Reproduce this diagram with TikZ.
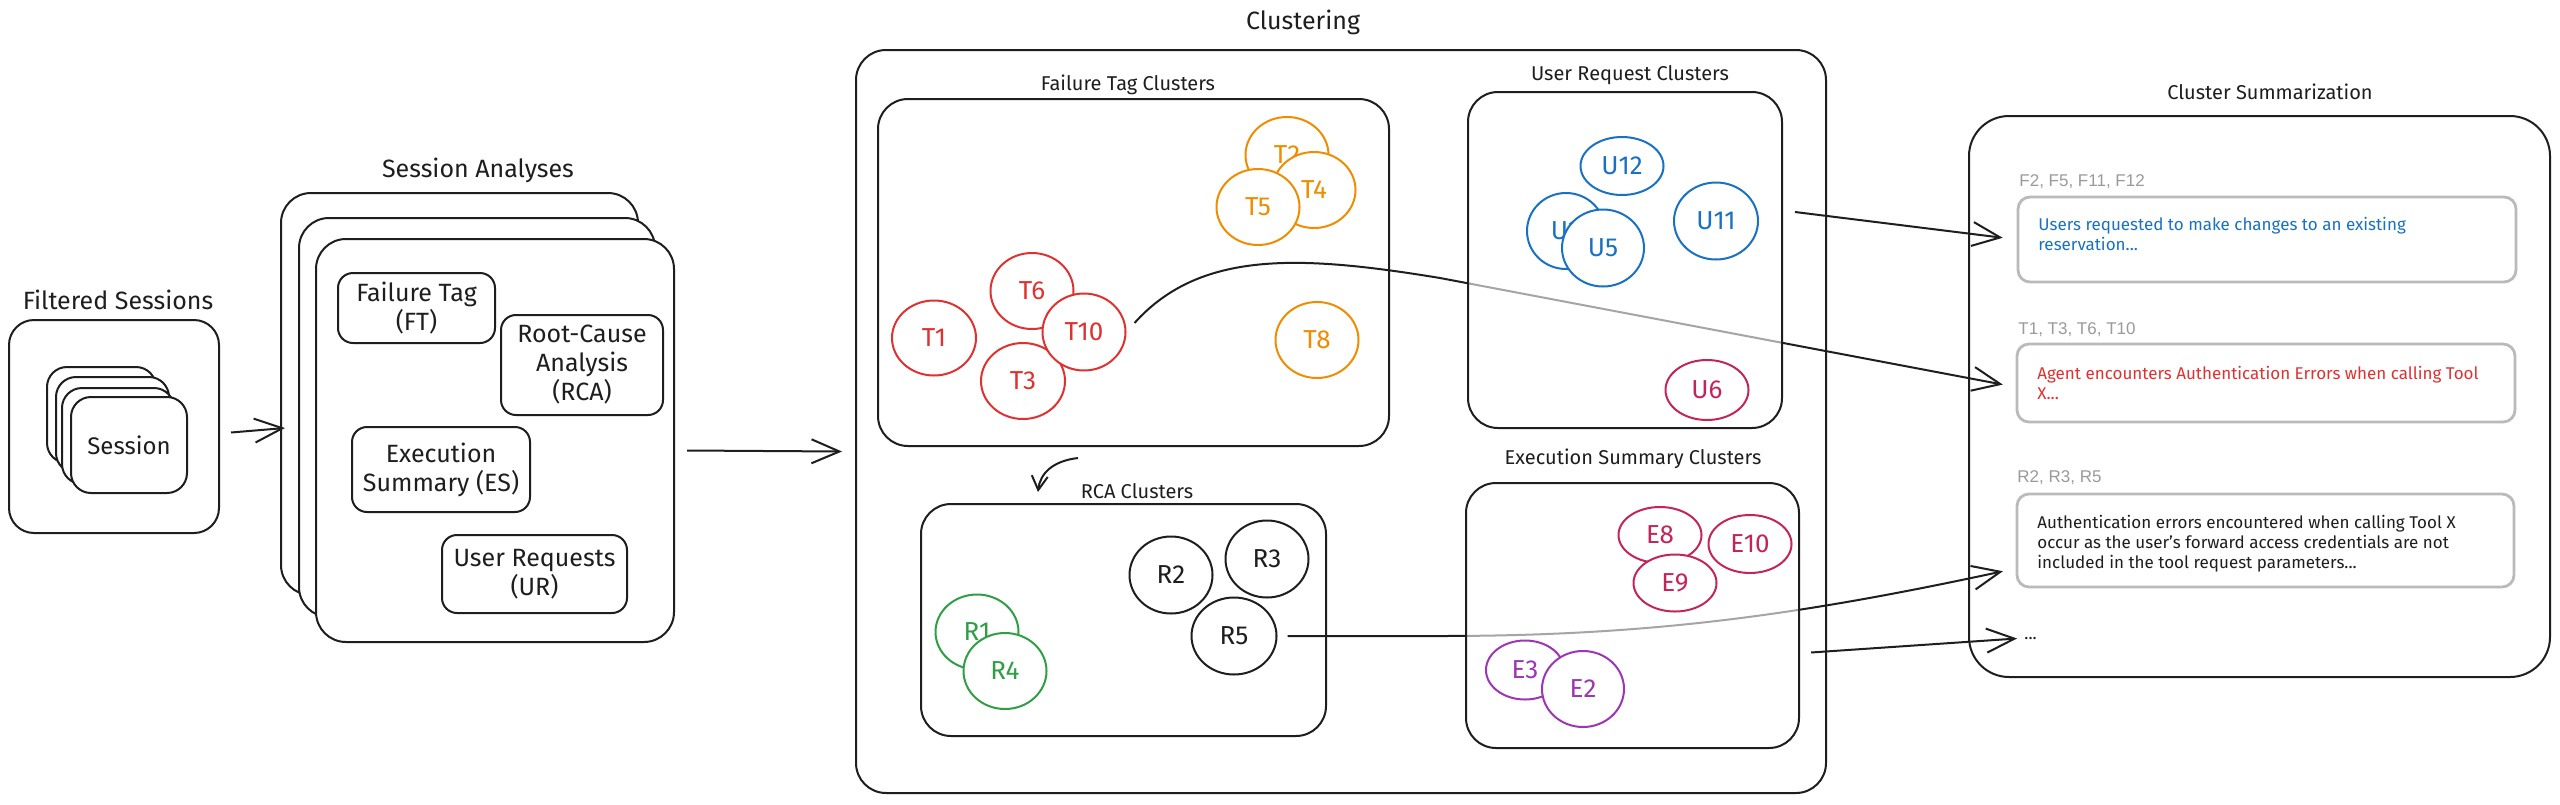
\documentclass[tikz,border=0pt]{standalone}
\usepackage{fontspec}
\setmainfont{Fira Sans}
\newfontfamily\idfont{Liberation Sans}
\usetikzlibrary{arrows.meta, positioning, shapes.geometric}

\definecolor{ink}{HTML}{1E1E1E}
\definecolor{tagred}{HTML}{E03131}
\definecolor{tagorange}{HTML}{F08C00}
\definecolor{reqblue}{HTML}{1971C2}
\definecolor{crimson}{HTML}{C2255C}
\definecolor{rcagreen}{HTML}{2F9E44}
\definecolor{espurple}{HTML}{9C36B5}
\definecolor{idgray}{HTML}{9A9A9A}
\definecolor{cardgray}{HTML}{BABABA}

\begin{document}
\begin{tikzpicture}[x=0.5pt,y=-0.5pt]

\tikzset{wh/.style 2 args = {minimum width=#1*0.5pt, minimum height=#2*0.5pt}}
\tikzset{clusterbox/.style = {draw=ink, line width=1pt, rounded corners=15pt, inner sep=0pt}}
\tikzset{stagebox/.style = {clusterbox, fill=white}}
\tikzset{partbox/.style = {stagebox, rounded corners=7.5pt, align=center, text=ink, font=\fontsize{12.5}{14.5}\selectfont}}
\tikzset{blob/.style = {ellipse, draw=#1, text=#1, fill=white, line width=1pt, inner sep=0pt, wh={83}{76}, font=\fontsize{13}{15}\selectfont}}
\tikzset{heading/.style = {text=ink, font=\fontsize{12.5}{15}\selectfont}}
\tikzset{subheading/.style = {text=ink, font=\fontsize{10}{12}\selectfont}}
\tikzset{cardbox/.style = {draw=cardgray, line width=1.4pt, rounded corners=6pt, fill=white, inner sep=0pt}}
\tikzset{cardtext/.style = {anchor=north west, inner sep=0pt, align=left, font=\fontsize{8.5}{10}\selectfont}}
\tikzset{cardid/.style = {anchor=west, inner sep=0pt, text=idgray, font=\idfont\fontsize{8.5}{10}\selectfont}}
\tikzset{flowarrow/.style = {draw=ink, line width=1pt, -{Straight Barb[length=14pt, width=12pt]}}}

\path[fill=white] (0,0) rectangle (2560,804);
\useasboundingbox (0,0) rectangle (2560,804);

% filtered sessions
\node[stagebox, rounded corners=12.5pt, wh={210}{213}] (filt) at (114,426.5) {};
\node[partbox, rounded corners=10pt, wh={109}{96}] (s1) at (101.5,415) {};
\node[partbox, rounded corners=10pt, wh={113}{96}] (s2) at (112.5,425) {};
\node[partbox, rounded corners=10pt, wh={112}{96}] (s3) at (118,436) {};
\node[partbox, rounded corners=10pt, wh={116}{96}, font=\fontsize{12}{14}\selectfont] (s4) at (129,445) {Session};

% session analyses
\node[stagebox, wh={357}{402}] (anaA) at (459.5,394) {};
\node[stagebox, wh={356}{399}] (anaB) at (477,417.5) {};
\node[stagebox, wh={358}{403}] (anaC) at (495,440.5) {};
\node[partbox, wh={157}{70}] (ft) at (416.5,308) {Failure Tag\\(FT)};
\node[partbox, wh={162}{100}] (rca) at (582,365) {Root-Cause\\Analysis\\(RCA)};
\node[partbox, wh={178}{85}] (es) at (441,469.5) {Execution\\Summary (ES)};
\node[partbox, wh={185}{78}] (ur) at (534.5,574) {User Requests\\(UR)};

% cluster summarization
\node[stagebox, rounded corners=20pt, wh={581}{561}] (summ) at (2259.5,396.5) {};
\node[cardid] (id1) at (2019,182) {F2, F5, F11, F12};
\node[cardbox, wh={498}{85}] (sum1) at (2267,239.5) {};
\node[cardtext, text=reqblue] (txt1) at (2038,217) {Users requested to make changes to an existing\\reservation...};
\node[cardid] (id2) at (2018,330) {T1, T3, T6, T10};
\node[cardbox, wh={498}{78}] (sum2) at (2266,383) {};
\node[cardtext, text=tagred] (txt2) at (2037,366) {Agent encounters Authentication Errors when calling Tool\\X...};
\node[cardid] (id3) at (2017,478) {R2, R3, R5};
\node[cardbox, wh={497}{93}] (sum3) at (2265.5,540.5) {};
\node[cardtext, text=ink] (txt3) at (2037,515) {Authentication errors encountered when calling Tool X\\occur as the user's forward access credentials are not\\included in the tool request parameters...};
\node[anchor=base west, inner sep=0pt, text=ink, font=\fontsize{8.5}{10}\selectfont] (dots) at (2024,639) {...};

% clustering
\node[stagebox, wh={970}{743}] (clust) at (1341,421.5) {};
\node[clusterbox, wh={511}{347}] (ftbox) at (1133.5,272.5) {};
\node[clusterbox, wh={405}{232}] (rcabox) at (1123.5,620) {};

% failure tag clusters
\node[blob=tagred, wh={84}{75}] (T1) at (934,338) {T1};
\node[blob=tagred] (T6) at (1032,291) {T6};
\node[blob=tagred, wh={84}{76}] (T3) at (1023,381) {T3};
\node[blob=tagred, wh={83}{77}] (T10) at (1084,332) {T10};
\node[blob=tagorange] (T2) at (1287,155) {T2};
\node[blob=tagorange] (T4) at (1314,190) {T4};
\node[blob=tagorange] (T5) at (1258,207) {T5};
\node[blob=tagorange] (T8) at (1317,340) {T8};

% rca clusters
\node[blob=rcagreen, wh={83}{75}] (R1) at (977,632) {R1};
\node[blob=rcagreen] (R4) at (1005,671) {R4};
\node[blob=ink, wh={83}{77}] (R2) at (1171,575) {R2};
\node[blob=ink, wh={83}{77}] (R3) at (1267,559) {R3};
\node[blob=ink, wh={85}{77}] (R5) at (1234,636) {R5};

% connectors into the summaries
\coordinate (hookA) at (1078,458);
\coordinate (hookB) at (1038,492);
\draw[draw=ink, line width=1pt, -{Straight Barb[length=7pt, width=8pt]}] (hookA) .. controls (1052,461) and (1040,474) .. (hookB);
\draw[flowarrow] ([xshift=5.5pt,yshift=-3pt]filt.east) -- ([xshift=2.5pt,yshift=-17pt]anaA.west);
\draw[flowarrow] ([xshift=6pt,yshift=-5pt]anaC.east) -- ([xshift=-6.5pt,yshift=-15pt]clust.west);
\draw[flowarrow, shorten >=6.5pt] ([xshift=4pt,yshift=4.5pt]T10.east) .. controls (1200,250) and (1300,255) .. (1440,278) -- ([yshift=-2pt]sum2.west);
\draw[flowarrow, shorten >=6.5pt] ([xshift=5pt]R5.east) -- (1440,636) .. controls (1650,636) and (1800,615) .. ([yshift=-14pt]sum3.west);

% user request and execution summary clusters
\node[clusterbox, fill=white, fill opacity=0.6, wh={314}{336}] (urbox) at (1625,260) {};
\node[clusterbox, fill=white, fill opacity=0.6, wh={333}{265}] (esbox) at (1632.5,615.5) {};
\node[blob=reqblue, wh={83}{58}] (U12) at (1622,166) {U12};
\node[blob=reqblue, wh={78}{76}] (U2) at (1566,231) {U2};
\node[blob=reqblue, wh={82}{77}] (U5) at (1603,248) {U5};
\node[blob=reqblue, wh={84}{77}] (U11) at (1716,221) {U11};
\node[blob=crimson, wh={83}{60}] (U6) at (1707,390) {U6};
\node[blob=crimson, wh={83}{56}] (E8) at (1660,535) {E8};
\node[blob=crimson, wh={83}{58}] (E10) at (1750,544) {E10};
\node[blob=crimson, wh={83}{57}] (E9) at (1675,583) {E9};
\node[blob=espurple, wh={78}{59}] (E3) at (1525,670) {E3};
\node[blob=espurple, wh={82}{76}] (E2) at (1583,689) {E2};
\draw[flowarrow, shorten >=7pt] ([xshift=6pt,yshift=24pt]urbox.east) -- (sum1.west);
\draw[flowarrow, shorten >=3.5pt] ([xshift=5.5pt,yshift=-18.5pt]esbox.east) -- (dots.west);

% headings
\node[heading] (hfilt) at (118,300) {Filtered Sessions};
\node[heading] (hana) at (478,170) {Session Analyses};
\node[heading] (hclust) at (1303,22) {Clustering};
\node[subheading] (hft) at (1128,85) {Failure Tag Clusters};
\node[subheading] (hur) at (1630,75) {User Request Clusters};
\node[subheading] (hrca) at (1137,491) {RCA Clusters};
\node[subheading] (hes) at (1633,459) {Execution Summary Clusters};
\node[subheading] (hsum) at (2270,92) {Cluster Summarization};

\end{tikzpicture}
\end{document}
